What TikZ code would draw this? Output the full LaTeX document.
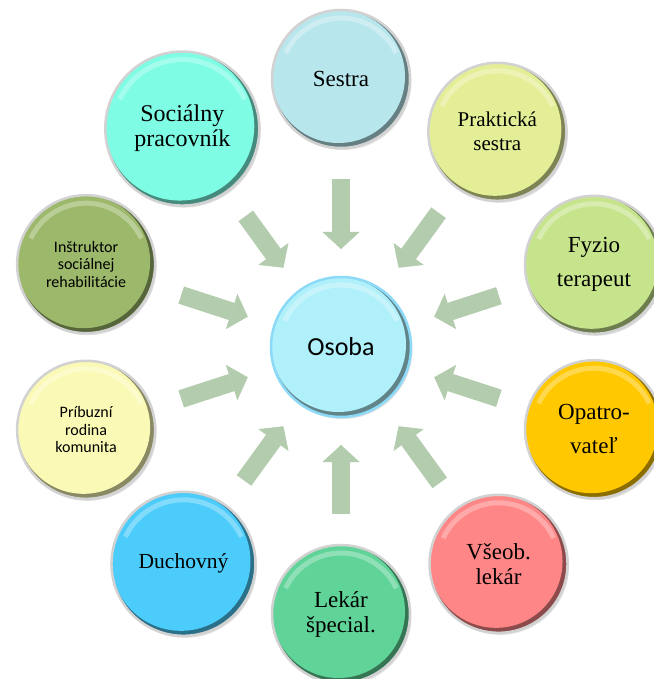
\documentclass[tikz,border=0pt]{standalone}
\usepackage{fontspec}
\setmainfont{Liberation Serif}
\newfontfamily\calib{Carlito}
\usetikzlibrary{arrows.meta, calc, shadows}

\definecolor{osobac}{RGB}{176,240,250}
\definecolor{sestc}{RGB}{184,230,237}
\definecolor{praktc}{RGB}{228,238,150}
\definecolor{fyzc}{RGB}{198,228,140}
\definecolor{opatc}{RGB}{255,200,0}
\definecolor{vseobc}{RGB}{255,134,134}
\definecolor{lekc}{RGB}{96,212,152}
\definecolor{duchc}{RGB}{76,204,250}
\definecolor{pribc}{RGB}{250,250,182}
\definecolor{instrc}{RGB}{156,184,106}
\definecolor{socc}{RGB}{126,252,228}
\definecolor{arrg}{RGB}{178,204,173}

\begin{document}
\begin{tikzpicture}[x=1pt, y=1pt,
      bub/.style={circle, minimum size=138pt, inner sep=0pt, outer sep=0pt,
        align=center, draw=gray!35, line width=2.5pt, fill=#1!55!black,
        drop shadow={shadow xshift=1.5pt, shadow yshift=-2pt, opacity=.25},
        path picture={
          \fill[#1] let \p1=($(path picture bounding box.east)-(path picture bounding box.center)$)
            in ([shift={(-2.5pt,2.5pt)}]path picture bounding box.center) circle ({\x1-2.5pt});
          \draw[white, opacity=.3, line width=5pt]
            let \p1=($(path picture bounding box.east)-(path picture bounding box.center)$)
            in ([shift={(155:\x1-8pt)}]path picture bounding box.center)
            arc[start angle=155, end angle=25, radius=\x1-8pt];
        }},
      ser/.style={font=\fontsize{23}{25}\selectfont},
      san/.style={font=\calib\fontsize{16}{17.5}\selectfont},
      flow/.style={draw=arrg, line width=18pt,
        -{Triangle[width=37pt, length=17pt, line width=0.5pt]},
        shorten <=31pt, shorten >=28pt}]
      \useasboundingbox (-341,-332) rectangle (312,347);

      \node[bub=osobac, draw=cyan!45, minimum size=140pt, font=\calib\fontsize{26}{30}\selectfont] (osoba) at (0,0) {Osoba};

      \node[bub=sestc, ser] (sestra) at (90:268) {Sestra};
      \node[bub=praktc, font=\fontsize{21}{24}\selectfont] (prakt) at (54:266) {Praktická\\sestra};
      \node[bub=fyzc, ser] (fyzio) at (18:266) {Fyzio\\[9pt]terapeut};
      \node[bub=opatc, ser] (opatr) at (-18:266) {Opatro-\\[9pt]vateľ};
      \node[bub=vseobc, ser] (vseob) at (-54:268) {Všeob.\\lekár};
      \node[bub=lekc, ser] (lekar) at (-90:267) {Lekár\\špecial.};
      \node[bub=duchc, minimum size=144pt, font=\fontsize{21.5}{24}\selectfont] (duch) at (-126:268) {Duchovný};
      \node[bub=pribc, san] (prib) at (-162:268) {Príbuzní\\rodina\\komunita};
      \node[bub=instrc, san] (instr) at (162:268) {Inštruktor\\sociálnej\\rehabilitácie};
      \node[bub=socc, minimum size=154pt, font=\fontsize{24}{25}\selectfont] (soc) at (126:270) {Sociálny\\pracovník};

      \draw[flow] (sestra) -- (osoba);
      \draw[flow] (prakt) -- (osoba);
      \draw[flow] (fyzio) -- (osoba);
      \draw[flow] (opatr) -- (osoba);
      \draw[flow] (vseob) -- (osoba);
      \draw[flow] (lekar) -- (osoba);
      \draw[flow] (duch) -- (osoba);
      \draw[flow] (prib) -- (osoba);
      \draw[flow] (instr) -- (osoba);
      \draw[flow] (soc) -- (osoba);

    \end{tikzpicture}
\end{document}
